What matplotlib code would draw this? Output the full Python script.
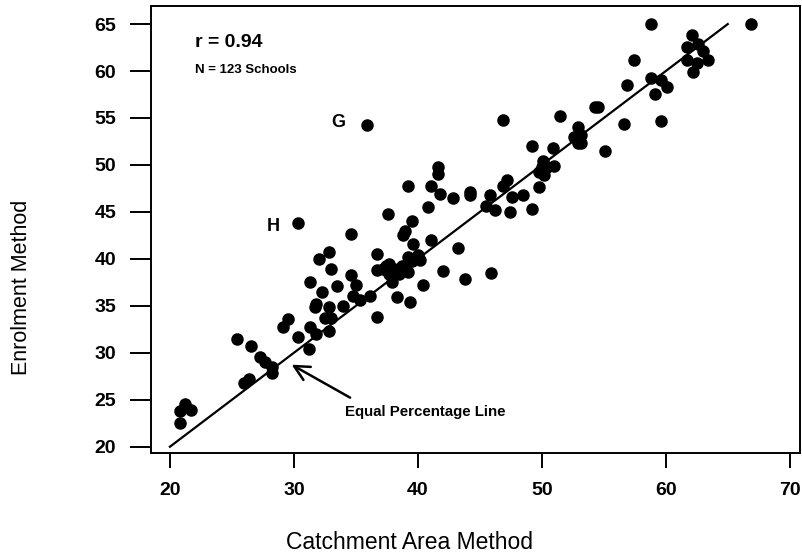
import matplotlib
matplotlib.use("Agg")
import matplotlib.pyplot as plt

plt.rcParams['font.family'] = ['Liberation Sans', 'DejaVu Sans']

# catchment area method (x) vs enrolment method (y)
catchment = [20.8, 21.2, 21.7, 20.8,
             25.4, 26.5, 27.3, 27.7, 28.2, 28.2, 26.0, 26.4,
             29.1, 29.5, 30.3, 31.2, 31.3, 31.8, 32.8, 32.5, 33.0, 31.7,
             32.8, 31.8, 34.0, 31.3, 32.3, 33.5, 34.6, 35.0, 34.8, 35.3,
             36.1, 36.7, 32.0, 32.8, 33.0, 34.6, 30.3, 36.7, 36.7,
             37.2, 37.7, 38.1, 38.5, 37.7, 39.2, 39.5, 40.2, 39.2, 37.9,
             40.4, 38.3, 39.4, 42.0, 43.8, 45.9, 40.8, 37.6, 39.5, 39.0,
             38.8, 39.6, 41.1, 43.2, 35.9, 41.6, 41.6, 39.2, 41.1, 41.8,
             42.8, 44.2, 44.2, 45.8, 45.5, 46.2, 46.9, 47.2, 47.6, 48.5,
             47.4, 49.2, 49.8, 49.8, 46.9, 49.2,
             58.8, 66.9, 62.1, 61.7, 62.6, 63.0, 63.4, 61.7, 62.5, 62.2,
             57.4, 58.8, 59.6, 60.1, 59.1, 56.9, 59.6, 56.6, 54.3, 54.5,
             51.5, 52.9, 53.2, 52.9, 53.2, 55.1, 50.9, 50.1, 50.0, 50.4,
             51.0, 50.2,
             38.7, 37.4, 40.0, 52.6]
enrolment = [23.8, 24.5, 23.9, 22.5,
             31.5, 30.7, 29.5, 29.0, 28.5, 27.9, 26.8, 27.2,
             32.7, 33.6, 31.7, 30.4, 32.8, 32.0, 32.3, 33.7, 33.7, 34.9,
             34.9, 35.2, 35.0, 37.5, 36.5, 37.1, 38.3, 37.2, 36.1, 35.6,
             36.1, 33.8, 40.0, 40.7, 38.9, 42.7, 43.8, 40.5, 38.8,
             38.9, 39.5, 38.9, 38.4, 38.4, 40.2, 39.8, 39.9, 38.6, 37.5,
             37.2, 35.9, 35.4, 38.7, 37.9, 38.5, 45.5, 44.8, 44.0, 43.0,
             42.5, 41.6, 42.0, 41.2, 54.3, 49.8, 49.0, 47.8, 47.8, 46.9,
             46.5, 47.1, 46.8, 46.8, 45.6, 45.2, 47.8, 48.4, 46.6, 46.8,
             45.0, 45.3, 47.6, 49.2, 54.8, 52.0,
             65.0, 65.0, 63.8, 62.6, 62.9, 62.1, 61.2, 61.2, 60.9, 59.9,
             61.2, 59.3, 59.0, 58.3, 57.6, 58.5, 54.7, 54.4, 56.2, 56.2,
             55.2, 54.0, 53.2, 52.3, 52.3, 51.5, 51.8, 50.4, 49.8, 49.8,
             49.9, 48.9,
             39.2, 39.2, 40.4, 53.0]

equal_line = [20, 65]
x_ticks = [20, 30, 40, 50, 60, 70]
y_ticks = [20, 25, 30, 35, 40, 45, 50, 55, 60, 65]

fig = plt.figure(figsize=(8.03, 5.59), dpi=100)
ax = fig.add_axes([0.188, 0.1896, 0.808, 0.7996])

ax.scatter(catchment, enrolment, s=64, color='black', zorder=3)
ax.plot(equal_line, equal_line, color='black', lw=1.6)

ax.set_xlim(18.47, 70.81)
ax.set_ylim(19.33, 66.92)
ax.set_xticks(x_ticks)
ax.set_yticks(y_ticks)
for s in ax.spines.values():
    s.set_linewidth(1.4)
ax.tick_params(axis='x', direction='out', length=11, width=1.4, pad=10, labelsize=14)
ax.tick_params(axis='y', direction='out', length=15, width=1.4, pad=10, labelsize=14)
for lab in ax.get_xticklabels() + ax.get_yticklabels():
    lab.set_fontweight('bold')

ax.set_xlabel('Catchment Area Method', fontsize=16.5, va='center')
ax.xaxis.set_label_coords(0.398, -0.2013)
ax.set_ylabel('Enrolment Method', fontsize=15.5, va='center', ha='center')
ax.yaxis.set_label_coords(-0.1988, 0.370)

ax.text(22.0, 63.0, 'r = 0.94', fontsize=14, fontweight='bold', va='center')
ax.text(22.0, 60.1, 'N = 123 Schools', fontsize=9.5, fontweight='bold', va='center')
ax.text(33.6, 54.5, 'G', fontsize=13, fontweight='bold', ha='center', va='center')
ax.text(28.3, 43.4, 'H', fontsize=13, fontweight='bold', ha='center', va='center')
ax.text(34.1, 23.7, 'Equal Percentage Line', fontsize=10.8, fontweight='bold', va='center')
ax.annotate('', xy=(29.62, 28.88), xytext=(34.73, 25.08),
            arrowprops=dict(arrowstyle='->', lw=1.8, mutation_scale=27, color='black'))

fig.savefig('out.png', dpi=100)
